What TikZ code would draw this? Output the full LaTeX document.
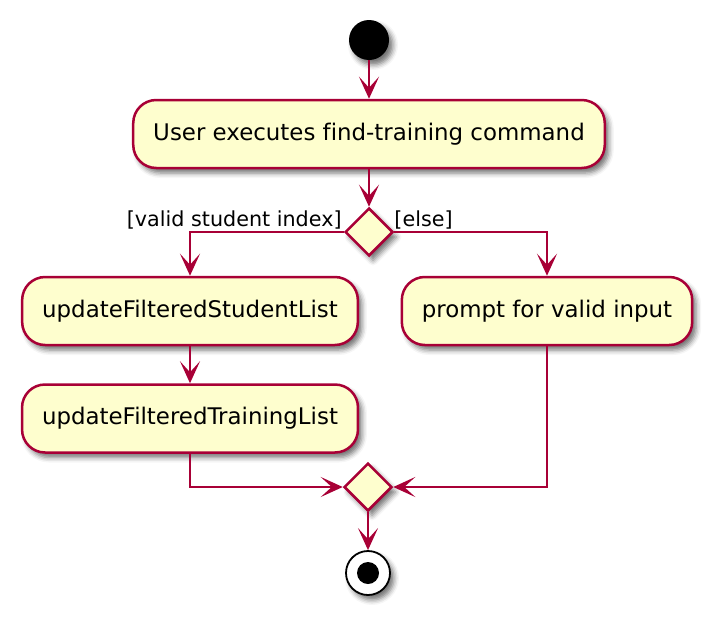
\documentclass[tikz,border=0pt]{standalone}
\usepackage{fontspec}
\setmainfont{DejaVu Sans}[Ligatures=CommonOff]
\usetikzlibrary{arrows.meta,shapes.geometric,shadows.blur}
\definecolor{umlred}{HTML}{A80036}
\definecolor{umlfill}{HTML}{FEFECE}
\begin{document}
\begin{tikzpicture}
[x=1pt, y=-1pt,
 shade/.style={blur shadow={shadow xshift=4pt, shadow yshift=-5pt, shadow blur radius=5pt, shadow opacity=55}},
 act/.style={draw=umlred, fill=umlfill, line width=2.5pt, rounded corners=23pt,
   minimum height=68pt, inner xsep=20pt, font=\fontsize{22.9}{27}\selectfont, shade},
 branch/.style={diamond, draw=umlred, fill=umlfill, line width=2.5pt, inner sep=0pt,
   minimum width=48pt, minimum height=48pt, shade},
 guard/.style={font=\fontsize{20.7}{24}\selectfont, inner sep=0pt},
 flow/.style={draw=umlred, line width=2.3pt, -{Stealth[length=22pt, width=20pt, inset=11pt]}}]
\useasboundingbox (0,0) rectangle (714,616);
%% start and stop
\node[circle, fill=black, minimum size=40pt, inner sep=0pt, shade] (start) at (369,40) {};
\node[circle, draw=black, fill=white, line width=1.8pt, minimum size=44pt, inner sep=0pt, shade] (stop) at (368,573) {};
\fill (stop.center) circle (11pt);
%% actions
\foreach \name/\x/\y/\txt in {find/369/134/User executes find-training command,
  student/190/311/updateFilteredStudentList, prompt/547/311/prompt for valid input,
  training/190/418.5/updateFilteredTrainingList}
{
  \node[act] (\name) at (\x,\y) {\txt};
}
\node[branch] (split) at (369,232) {};
\node[branch] (merge) at (368,487) {};
\node[guard, anchor=south east] at ([xshift=-2pt, yshift=3pt]split.west) {[valid student index]};
\node[guard, anchor=south west] at ([xshift=0pt, yshift=3pt]split.east) {[else]};
%% connectors
\draw[flow] (start) -- (find);
\draw[flow] (find) -- (split);
\draw[flow] (split.west) -| (student.north);
\draw[flow] (split.east) -| (prompt.north);
\draw[flow] (student) -- (training);
\draw[flow] (training.south) |- (merge.west);
\draw[flow] (prompt.south) |- (merge.east);
\draw[flow] (merge) -- (stop);
\end{tikzpicture}
\end{document}
